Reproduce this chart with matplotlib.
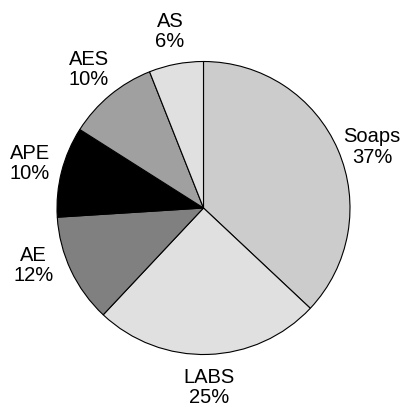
import matplotlib
matplotlib.use('Agg')
import numpy as np
import matplotlib.pyplot as plt

# surfactant share
categories = ['Soaps', 'LABS', 'AE', 'APE', 'AES', 'AS']
shares = [37, 25, 12, 10, 10, 6]
colors = ['#cccccc', '#e0e0e0', '#808080', '#000000', '#a0a0a0', '#e0e0e0']

plt.rcParams['font.family'] = ['Liberation Sans', 'DejaVu Sans']

fig = plt.figure(figsize=(4.09, 4.07), dpi=100)
ax = fig.add_axes([0, 0, 1, 1])

wedges, _ = ax.pie(shares, colors=colors, startangle=90, counterclock=False,
                   wedgeprops=dict(edgecolor='black', linewidth=0.8))

# labels outside each wedge, small angular nudges so they sit like the original
nudge = [-3.5, 0, -6.5, 0, 0, 0]
for w, c, v, dn in zip(wedges, categories, shares, nudge):
    ang = np.deg2rad((w.theta1 + w.theta2) / 2 + dn)
    d = 1.225
    ax.text(d * np.cos(ang), d * np.sin(ang), f'{c}\n{v}%', ha='center',
            va='center', fontsize=14.5, linespacing=1.1)

# place pie: centre at (203.5, 208) px from top-left, radius 146.5 px
r = 146.5
ax.set_aspect('auto')
ax.set_xlim(-203.5 / r, (409 - 203.5) / r)
ax.set_ylim(-(407 - 208) / r, 208 / r)
ax.axis('off')

fig.savefig('out.png', dpi=100)
